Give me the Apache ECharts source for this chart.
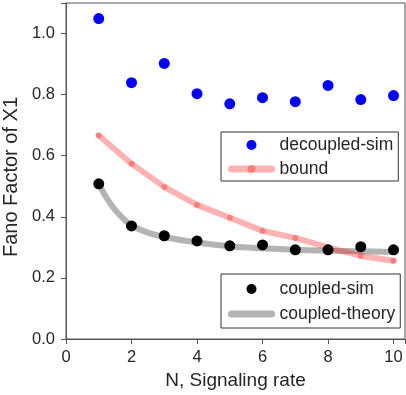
<!DOCTYPE html>
<html>
<head>
<meta charset="utf-8">
<script src="https://cdn.jsdelivr.net/npm/echarts@6/dist/echarts.min.js"></script>
<style>
  html, body { margin: 0; padding: 0; background: #fff; }
  #main { width: 406px; height: 395px; }
</style>
</head>
<body>
<div id="main"></div>
<script>
// values
const nValues = [1, 2, 3, 4, 5, 6, 7, 8, 9, 10]
const decoupledSim = [1.049, 0.839, 0.902, 0.803, 0.770, 0.790, 0.777, 0.830, 0.784, 0.797]
const bound = [0.666, 0.574, 0.498, 0.439, 0.397, 0.354, 0.331, 0.300, 0.272, 0.256]
const coupledSim = [0.508, 0.370, 0.338, 0.321, 0.305, 0.308, 0.292, 0.292, 0.302, 0.292]
const theoryN = [1, 1.25, 1.5, 1.75, 2, 2.5, 3, 4, 5, 6, 7, 8, 9, 10]
const coupledTheory = [0.508, 0.46, 0.423, 0.394, 0.372, 0.348, 0.334, 0.316, 0.304, 0.297, 0.292, 0.289, 0.287, 0.285]
const xTicks = [0, 2, 4, 6, 8, 10]

const pairs = (xs, ys) => xs.map((x, i) => [x, ys[i]])

const font = 'Liberation Sans, Arial, sans-serif'
const textColor = '#262626'
const frameColor = '#555'
const redLine = 'rgba(255,0,0,0.3)'
const grayLine = 'rgba(128,128,128,0.6)'

const chart = echarts.init(document.getElementById('main'))

const legendBase = {
    orient: 'vertical',
    left: 221,
    itemWidth: 40,
    itemHeight: 10,
    borderColor: '#333',
    borderWidth: 1,
    borderRadius: 0,
    backgroundColor: '#fff',
    textStyle: { fontFamily: font, fontSize: 17.5, lineHeight: 18, color: textColor, padding: [0, 0, 0, 3] }
}

chart.setOption({
    animation: false,
    grid: {
        left: 66, right: 1, top: 3, bottom: 56,
        outerBoundsMode: 'none',
        containLabel: false,
        show: true, borderColor: frameColor, borderWidth: 1
    },
    legend: [
        Object.assign({}, legendBase, {
            top: 132,
            itemGap: 6,
            padding: [4, 5, 3, 7],
            data: [
                { name: 'decoupled-sim', icon: 'circle' },
                { name: 'bound', lineStyle: { width: 7, cap: 'round' } }
            ]
        }),
        Object.assign({}, legendBase, {
            top: 274,
            itemGap: 7,
            padding: [6, 5, 5, 7],
            data: [
                { name: 'coupled-sim', icon: 'circle' },
                { name: 'coupled-theory', lineStyle: { width: 7, cap: 'round' }, itemStyle: { opacity: 0 } }
            ]
        })
    ],
    xAxis: {
        type: 'value',
        min: 0,
        max: 10.35,
        interval: 2,
        name: 'N, Signaling rate',
        nameLocation: 'middle',
        nameGap: 28,
        nameTextStyle: { fontFamily: font, fontSize: 19, color: textColor },
        axisLine: { lineStyle: { color: frameColor } },
        axisTick: { show: true, length: 5, lineStyle: { color: frameColor } },
        axisLabel: {
            fontFamily: font, fontSize: 16.5, color: textColor, margin: 10,
            formatter: v => xTicks.includes(v) ? String(v) : ''
        },
        splitLine: { show: false }
    },
    yAxis: {
        type: 'value',
        min: 0,
        max: 1.1,
        interval: 0.2,
        name: 'Fano Factor of X1',
        nameLocation: 'middle',
        nameGap: 32,
        nameTextStyle: { fontFamily: font, fontSize: 20, color: textColor, padding: [0, 12, 0, 0] },
        axisLine: { show: true, lineStyle: { color: frameColor } },
        axisTick: { show: true, length: 5, lineStyle: { color: frameColor } },
        axisLabel: {
            fontFamily: font, fontSize: 16.5, color: textColor, margin: 11,
            formatter: v => Math.abs(v * 5 - Math.round(v * 5)) < 1e-6 ? v.toFixed(1) : ''
        },
        splitLine: { show: false }
    },
    series: [
        {
            name: 'coupled-theory',
            type: 'line',
            data: pairs(theoryN, coupledTheory),
            smooth: 0.4,
            symbol: 'none',
            z: 1,
            lineStyle: { color: grayLine, width: 6, cap: 'round' },
            itemStyle: { color: grayLine }
        },
        {
            name: 'bound',
            type: 'line',
            data: pairs(nValues, bound),
            symbol: 'circle',
            symbolSize: 6,
            z: 2,
            lineStyle: { color: redLine, width: 6, cap: 'round', join: 'round' },
            itemStyle: { color: redLine, borderWidth: 0 }
        },
        {
            name: 'decoupled-sim',
            type: 'scatter',
            data: pairs(nValues, decoupledSim),
            symbolSize: 11,
            z: 3,
            itemStyle: { color: '#0000ff', opacity: 1 }
        },
        {
            name: 'coupled-sim',
            type: 'scatter',
            data: pairs(nValues, coupledSim),
            symbolSize: 11,
            z: 3,
            itemStyle: { color: '#000000', opacity: 1 }
        }
    ]
})
</script>
</body>
</html>
